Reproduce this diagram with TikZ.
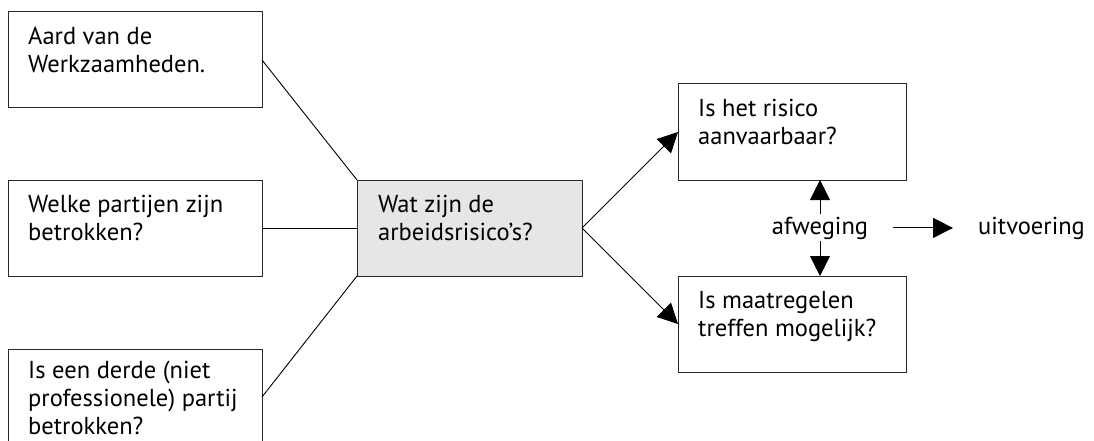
\documentclass[tikz,border=0pt]{standalone}
\usepackage{fontspec}
\setmainfont{PT Sans}
\usetikzlibrary{arrows.meta}
\definecolor{boxgray}{RGB}{230,230,230}
\definecolor{edge}{RGB}{40,40,40}
\begin{document}
\begin{tikzpicture}[x=1pt,y=-1pt,
  txt/.style={font=\fontsize{24.5pt}{28pt}\selectfont},
  box/.style={draw=edge, line width=1pt, inner sep=0pt, outer sep=0pt, minimum height=96pt},
  leftbox/.style={box, minimum width=254pt},
  rightbox/.style={box, minimum width=228pt},
  midbox/.style={box, minimum width=225pt, fill=boxgray},
  boxtext/.style={txt, anchor=north west, inner sep=0pt, align=left},
  conn/.style={line width=0.9pt, draw=black},
  arr/.style={conn, -{Triangle[length=20pt,width=20pt]}},
]
\useasboundingbox (0,0) rectangle (1094,441);

% boxes
\node[leftbox] (b1) at (135,60) {};
\node[leftbox] (b2) at (135,228) {};
\node[leftbox] (b3) at (135,397) {};
\node[midbox] (c) at (469.5,228) {};
\node[rightbox] (r1) at (792,132) {};
\node[rightbox] (r2) at (792,324) {};

% box texts
\node[boxtext] (t1) at ([shift={(20,15)}]b1.north west) {Aard van de\\Werkzaamheden.};
\node[boxtext] (t2) at ([shift={(20,15)}]b2.north west) {Welke partijen zijn\\betrokken?};
\node[boxtext] (t3) at ([shift={(20,12)}]b3.north west) {Is een derde (niet\\professionele) partij\\betrokken?};
\node[boxtext] (tc) at ([shift={(21,15)}]c.north west) {Wat zijn de\\arbeidsrisico’s?};
\node[boxtext] (tr1) at ([shift={(20,15)}]r1.north west) {Is het risico\\aanvaarbaar?};
\node[boxtext] (tr2) at ([shift={(20,15)}]r2.north west) {Is maatregelen\\treffen mogelijk?};

% free labels
\node[txt, anchor=base, inner xsep=25pt, inner ysep=2pt] (afw) at (820,234) {afweging};
\node[txt, anchor=base west, inner xsep=25pt, inner ysep=0pt] (uitv) at (953,234) {uitvoering};

% connectors
\draw[conn] (b1.east) -- (c.north west);
\draw[conn] (b2.east) -- (c.west);
\draw[conn] (b3.east) -- (c.south west);
\draw[arr] (c.east) -- (r1.west);
\draw[arr] (c.east) -- (r2.west);
\draw[arr] (afw.north) -- (afw.north |- r1.south);
\draw[arr] (afw.south) -- (afw.south |- r2.north);
\draw[arr] (afw.east) -- (uitv.west);
\end{tikzpicture}
\end{document}
